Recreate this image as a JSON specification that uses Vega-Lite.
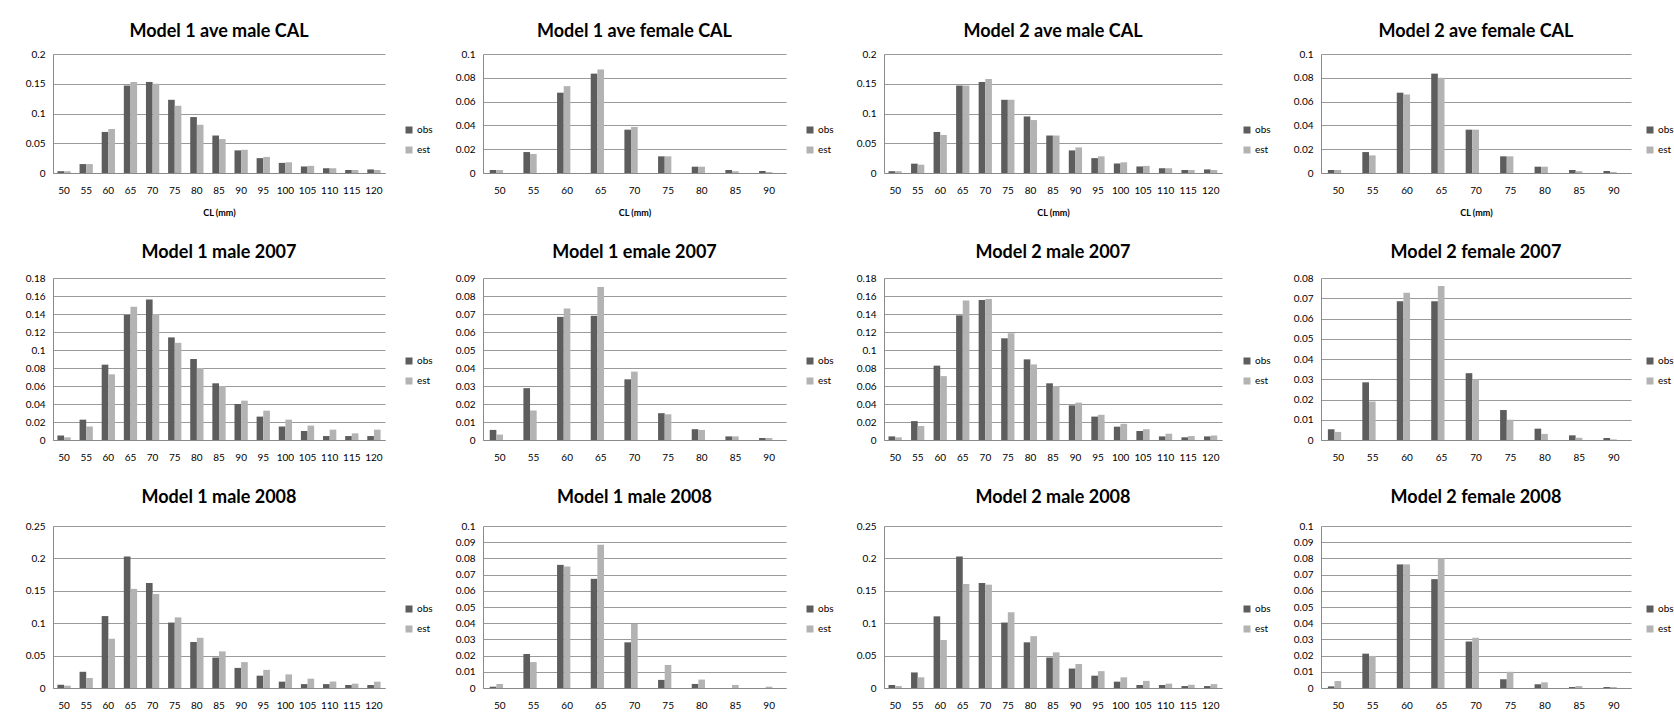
{
  "$schema": "https://vega.github.io/schema/vega-lite/v6.json",
  "padding": {"left": 25, "top": 23, "right": 0, "bottom": 0},
  "background": "white",
  "config": {
    "font": "Lato",
    "view": {"stroke": null},
    "axis": {"labelFont": "Lato", "labelFontSize": 10, "labelColor": "#000000", "ticks": false, "tickSize": 0, "domainColor": "#8a8a8a", "titleFont": "Lato"},
    "axisX": {"labelAngle": 0, "labelPadding": 12, "grid": false, "titleFontSize": 9, "titleFontWeight": "bold", "titleColor": "#000000", "titlePadding": 13},
    "axisY": {"grid": true, "gridColor": "#9a9a9a", "labelPadding": 8, "format": "~g"},
    "legend": {"orient": "none", "title": null, "symbolType": "square", "symbolSize": 49, "labelFont": "Lato", "labelFontSize": 10, "labelColor": "#000000", "rowPadding": 10, "labelOffset": 3, "symbolStrokeWidth": 0},
    "title": {"font": "Lato", "fontSize": 18, "fontWeight": "bold", "color": "#000000"}
  },
  "data": {"values": [
    {"panel":1,"cl":50,"series":"obs","value":0.003},{"panel":1,"cl":55,"series":"obs","value":0.015},{"panel":1,"cl":60,"series":"obs","value":0.069},{"panel":1,"cl":65,"series":"obs","value":0.147},{"panel":1,"cl":70,"series":"obs","value":0.153},{"panel":1,"cl":75,"series":"obs","value":0.123},{"panel":1,"cl":80,"series":"obs","value":0.094},{"panel":1,"cl":85,"series":"obs","value":0.063},{"panel":1,"cl":90,"series":"obs","value":0.038},{"panel":1,"cl":95,"series":"obs","value":0.025},{"panel":1,"cl":100,"series":"obs","value":0.017},{"panel":1,"cl":105,"series":"obs","value":0.011},{"panel":1,"cl":110,"series":"obs","value":0.008},{"panel":1,"cl":115,"series":"obs","value":0.005},{"panel":1,"cl":120,"series":"obs","value":0.006},
    {"panel":1,"cl":50,"series":"est","value":0.003},{"panel":1,"cl":55,"series":"est","value":0.015},{"panel":1,"cl":60,"series":"est","value":0.074},{"panel":1,"cl":65,"series":"est","value":0.153},{"panel":1,"cl":70,"series":"est","value":0.150},{"panel":1,"cl":75,"series":"est","value":0.113},{"panel":1,"cl":80,"series":"est","value":0.081},{"panel":1,"cl":85,"series":"est","value":0.057},{"panel":1,"cl":90,"series":"est","value":0.039},{"panel":1,"cl":95,"series":"est","value":0.027},{"panel":1,"cl":100,"series":"est","value":0.018},{"panel":1,"cl":105,"series":"est","value":0.012},{"panel":1,"cl":110,"series":"est","value":0.008},{"panel":1,"cl":115,"series":"est","value":0.005},{"panel":1,"cl":120,"series":"est","value":0.005},

    {"panel":2,"cl":50,"series":"obs","value":0.0025},{"panel":2,"cl":55,"series":"obs","value":0.0176},{"panel":2,"cl":60,"series":"obs","value":0.0675},{"panel":2,"cl":65,"series":"obs","value":0.0835},{"panel":2,"cl":70,"series":"obs","value":0.0364},{"panel":2,"cl":75,"series":"obs","value":0.014},{"panel":2,"cl":80,"series":"obs","value":0.0053},{"panel":2,"cl":85,"series":"obs","value":0.0025},{"panel":2,"cl":90,"series":"obs","value":0.0017},
    {"panel":2,"cl":50,"series":"est","value":0.0025},{"panel":2,"cl":55,"series":"est","value":0.016},{"panel":2,"cl":60,"series":"est","value":0.073},{"panel":2,"cl":65,"series":"est","value":0.087},{"panel":2,"cl":70,"series":"est","value":0.0387},{"panel":2,"cl":75,"series":"est","value":0.014},{"panel":2,"cl":80,"series":"est","value":0.0053},{"panel":2,"cl":85,"series":"est","value":0.0015},{"panel":2,"cl":90,"series":"est","value":0.0008},

    {"panel":3,"cl":50,"series":"obs","value":0.003},{"panel":3,"cl":55,"series":"obs","value":0.0157},{"panel":3,"cl":60,"series":"obs","value":0.069},{"panel":3,"cl":65,"series":"obs","value":0.147},{"panel":3,"cl":70,"series":"obs","value":0.153},{"panel":3,"cl":75,"series":"obs","value":0.123},{"panel":3,"cl":80,"series":"obs","value":0.095},{"panel":3,"cl":85,"series":"obs","value":0.063},{"panel":3,"cl":90,"series":"obs","value":0.038},{"panel":3,"cl":95,"series":"obs","value":0.025},{"panel":3,"cl":100,"series":"obs","value":0.016},{"panel":3,"cl":105,"series":"obs","value":0.011},{"panel":3,"cl":110,"series":"obs","value":0.008},{"panel":3,"cl":115,"series":"obs","value":0.005},{"panel":3,"cl":120,"series":"obs","value":0.006},
    {"panel":3,"cl":50,"series":"est","value":0.003},{"panel":3,"cl":55,"series":"est","value":0.014},{"panel":3,"cl":60,"series":"est","value":0.064},{"panel":3,"cl":65,"series":"est","value":0.147},{"panel":3,"cl":70,"series":"est","value":0.158},{"panel":3,"cl":75,"series":"est","value":0.123},{"panel":3,"cl":80,"series":"est","value":0.089},{"panel":3,"cl":85,"series":"est","value":0.063},{"panel":3,"cl":90,"series":"est","value":0.043},{"panel":3,"cl":95,"series":"est","value":0.028},{"panel":3,"cl":100,"series":"est","value":0.018},{"panel":3,"cl":105,"series":"est","value":0.012},{"panel":3,"cl":110,"series":"est","value":0.008},{"panel":3,"cl":115,"series":"est","value":0.005},{"panel":3,"cl":120,"series":"est","value":0.005},

    {"panel":4,"cl":50,"series":"obs","value":0.0025},{"panel":4,"cl":55,"series":"obs","value":0.0176},{"panel":4,"cl":60,"series":"obs","value":0.0675},{"panel":4,"cl":65,"series":"obs","value":0.0835},{"panel":4,"cl":70,"series":"obs","value":0.0364},{"panel":4,"cl":75,"series":"obs","value":0.014},{"panel":4,"cl":80,"series":"obs","value":0.0053},{"panel":4,"cl":85,"series":"obs","value":0.0025},{"panel":4,"cl":90,"series":"obs","value":0.0017},
    {"panel":4,"cl":50,"series":"est","value":0.0025},{"panel":4,"cl":55,"series":"est","value":0.0148},{"panel":4,"cl":60,"series":"est","value":0.066},{"panel":4,"cl":65,"series":"est","value":0.080},{"panel":4,"cl":70,"series":"est","value":0.0364},{"panel":4,"cl":75,"series":"est","value":0.014},{"panel":4,"cl":80,"series":"est","value":0.0053},{"panel":4,"cl":85,"series":"est","value":0.0015},{"panel":4,"cl":90,"series":"est","value":0.0008},

    {"panel":5,"cl":50,"series":"obs","value":0.005},{"panel":5,"cl":55,"series":"obs","value":0.0226},{"panel":5,"cl":60,"series":"obs","value":0.0837},{"panel":5,"cl":65,"series":"obs","value":0.139},{"panel":5,"cl":70,"series":"obs","value":0.156},{"panel":5,"cl":75,"series":"obs","value":0.114},{"panel":5,"cl":80,"series":"obs","value":0.090},{"panel":5,"cl":85,"series":"obs","value":0.063},{"panel":5,"cl":90,"series":"obs","value":0.040},{"panel":5,"cl":95,"series":"obs","value":0.026},{"panel":5,"cl":100,"series":"obs","value":0.015},{"panel":5,"cl":105,"series":"obs","value":0.010},{"panel":5,"cl":110,"series":"obs","value":0.0044},{"panel":5,"cl":115,"series":"obs","value":0.0044},{"panel":5,"cl":120,"series":"obs","value":0.0044},
    {"panel":5,"cl":50,"series":"est","value":0.003},{"panel":5,"cl":55,"series":"est","value":0.015},{"panel":5,"cl":60,"series":"est","value":0.073},{"panel":5,"cl":65,"series":"est","value":0.148},{"panel":5,"cl":70,"series":"est","value":0.140},{"panel":5,"cl":75,"series":"est","value":0.108},{"panel":5,"cl":80,"series":"est","value":0.080},{"panel":5,"cl":85,"series":"est","value":0.060},{"panel":5,"cl":90,"series":"est","value":0.0437},{"panel":5,"cl":95,"series":"est","value":0.0326},{"panel":5,"cl":100,"series":"est","value":0.0226},{"panel":5,"cl":105,"series":"est","value":0.016},{"panel":5,"cl":110,"series":"est","value":0.0115},{"panel":5,"cl":115,"series":"est","value":0.0074},{"panel":5,"cl":120,"series":"est","value":0.0115},

    {"panel":6,"cl":50,"series":"obs","value":0.0056},{"panel":6,"cl":55,"series":"obs","value":0.0288},{"panel":6,"cl":60,"series":"obs","value":0.0684},{"panel":6,"cl":65,"series":"obs","value":0.069},{"panel":6,"cl":70,"series":"obs","value":0.0337},{"panel":6,"cl":75,"series":"obs","value":0.0149},{"panel":6,"cl":80,"series":"obs","value":0.006},{"panel":6,"cl":85,"series":"obs","value":0.002},{"panel":6,"cl":90,"series":"obs","value":0.0011},
    {"panel":6,"cl":50,"series":"est","value":0.003},{"panel":6,"cl":55,"series":"est","value":0.0164},{"panel":6,"cl":60,"series":"est","value":0.073},{"panel":6,"cl":65,"series":"est","value":0.085},{"panel":6,"cl":70,"series":"est","value":0.038},{"panel":6,"cl":75,"series":"est","value":0.0143},{"panel":6,"cl":80,"series":"est","value":0.0056},{"panel":6,"cl":85,"series":"est","value":0.002},{"panel":6,"cl":90,"series":"est","value":0.0011},

    {"panel":7,"cl":50,"series":"obs","value":0.004},{"panel":7,"cl":55,"series":"obs","value":0.021},{"panel":7,"cl":60,"series":"obs","value":0.0826},{"panel":7,"cl":65,"series":"obs","value":0.1385},{"panel":7,"cl":70,"series":"obs","value":0.1555},{"panel":7,"cl":75,"series":"obs","value":0.113},{"panel":7,"cl":80,"series":"obs","value":0.0896},{"panel":7,"cl":85,"series":"obs","value":0.063},{"panel":7,"cl":90,"series":"obs","value":0.0385},{"panel":7,"cl":95,"series":"obs","value":0.026},{"panel":7,"cl":100,"series":"obs","value":0.0148},{"panel":7,"cl":105,"series":"obs","value":0.010},{"panel":7,"cl":110,"series":"obs","value":0.004},{"panel":7,"cl":115,"series":"obs","value":0.003},{"panel":7,"cl":120,"series":"obs","value":0.004},
    {"panel":7,"cl":50,"series":"est","value":0.003},{"panel":7,"cl":55,"series":"est","value":0.0155},{"panel":7,"cl":60,"series":"est","value":0.071},{"panel":7,"cl":65,"series":"est","value":0.155},{"panel":7,"cl":70,"series":"est","value":0.1567},{"panel":7,"cl":75,"series":"est","value":0.1185},{"panel":7,"cl":80,"series":"est","value":0.084},{"panel":7,"cl":85,"series":"est","value":0.060},{"panel":7,"cl":90,"series":"est","value":0.0415},{"panel":7,"cl":95,"series":"est","value":0.028},{"panel":7,"cl":100,"series":"est","value":0.018},{"panel":7,"cl":105,"series":"est","value":0.012},{"panel":7,"cl":110,"series":"est","value":0.007},{"panel":7,"cl":115,"series":"est","value":0.0044},{"panel":7,"cl":120,"series":"est","value":0.005},

    {"panel":8,"cl":50,"series":"obs","value":0.0053},{"panel":8,"cl":55,"series":"obs","value":0.0285},{"panel":8,"cl":60,"series":"obs","value":0.0685},{"panel":8,"cl":65,"series":"obs","value":0.0685},{"panel":8,"cl":70,"series":"obs","value":0.033},{"panel":8,"cl":75,"series":"obs","value":0.0148},{"panel":8,"cl":80,"series":"obs","value":0.0056},{"panel":8,"cl":85,"series":"obs","value":0.0023},{"panel":8,"cl":90,"series":"obs","value":0.001},
    {"panel":8,"cl":50,"series":"est","value":0.004},{"panel":8,"cl":55,"series":"est","value":0.019},{"panel":8,"cl":60,"series":"est","value":0.0727},{"panel":8,"cl":65,"series":"est","value":0.076},{"panel":8,"cl":70,"series":"est","value":0.030},{"panel":8,"cl":75,"series":"est","value":0.010},{"panel":8,"cl":80,"series":"est","value":0.003},{"panel":8,"cl":85,"series":"est","value":0.0011},{"panel":8,"cl":90,"series":"est","value":0.0003},

    {"panel":9,"cl":50,"series":"obs","value":0.005},{"panel":9,"cl":55,"series":"obs","value":0.025},{"panel":9,"cl":60,"series":"obs","value":0.111},{"panel":9,"cl":65,"series":"obs","value":0.203},{"panel":9,"cl":70,"series":"obs","value":0.162},{"panel":9,"cl":75,"series":"obs","value":0.101},{"panel":9,"cl":80,"series":"obs","value":0.071},{"panel":9,"cl":85,"series":"obs","value":0.047},{"panel":9,"cl":90,"series":"obs","value":0.031},{"panel":9,"cl":95,"series":"obs","value":0.019},{"panel":9,"cl":100,"series":"obs","value":0.0098},{"panel":9,"cl":105,"series":"obs","value":0.006},{"panel":9,"cl":110,"series":"obs","value":0.006},{"panel":9,"cl":115,"series":"obs","value":0.0046},{"panel":9,"cl":120,"series":"obs","value":0.0046},
    {"panel":9,"cl":50,"series":"est","value":0.0036},{"panel":9,"cl":55,"series":"est","value":0.0154},{"panel":9,"cl":60,"series":"est","value":0.076},{"panel":9,"cl":65,"series":"est","value":0.153},{"panel":9,"cl":70,"series":"est","value":0.145},{"panel":9,"cl":75,"series":"est","value":0.109},{"panel":9,"cl":80,"series":"est","value":0.0775},{"panel":9,"cl":85,"series":"est","value":0.0565},{"panel":9,"cl":90,"series":"est","value":0.040},{"panel":9,"cl":95,"series":"est","value":0.028},{"panel":9,"cl":100,"series":"est","value":0.021},{"panel":9,"cl":105,"series":"est","value":0.0144},{"panel":9,"cl":110,"series":"est","value":0.010},{"panel":9,"cl":115,"series":"est","value":0.0067},{"panel":9,"cl":120,"series":"est","value":0.0098},

    {"panel":10,"cl":50,"series":"obs","value":0.0008},{"panel":10,"cl":55,"series":"obs","value":0.021},{"panel":10,"cl":60,"series":"obs","value":0.076},{"panel":10,"cl":65,"series":"obs","value":0.0674},{"panel":10,"cl":70,"series":"obs","value":0.0282},{"panel":10,"cl":75,"series":"obs","value":0.005},{"panel":10,"cl":80,"series":"obs","value":0.0025},{"panel":10,"cl":85,"series":"obs","value":0},{"panel":10,"cl":90,"series":"obs","value":0},
    {"panel":10,"cl":50,"series":"est","value":0.0025},{"panel":10,"cl":55,"series":"est","value":0.016},{"panel":10,"cl":60,"series":"est","value":0.075},{"panel":10,"cl":65,"series":"est","value":0.0885},{"panel":10,"cl":70,"series":"est","value":0.0396},{"panel":10,"cl":75,"series":"est","value":0.0142},{"panel":10,"cl":80,"series":"est","value":0.0052},{"panel":10,"cl":85,"series":"est","value":0.0019},{"panel":10,"cl":90,"series":"est","value":0.0008},

    {"panel":11,"cl":50,"series":"obs","value":0.0046},{"panel":11,"cl":55,"series":"obs","value":0.024},{"panel":11,"cl":60,"series":"obs","value":0.1106},{"panel":11,"cl":65,"series":"obs","value":0.203},{"panel":11,"cl":70,"series":"obs","value":0.162},{"panel":11,"cl":75,"series":"obs","value":0.101},{"panel":11,"cl":80,"series":"obs","value":0.0705},{"panel":11,"cl":85,"series":"obs","value":0.047},{"panel":11,"cl":90,"series":"obs","value":0.030},{"panel":11,"cl":95,"series":"obs","value":0.019},{"panel":11,"cl":100,"series":"obs","value":0.0098},{"panel":11,"cl":105,"series":"obs","value":0.0046},{"panel":11,"cl":110,"series":"obs","value":0.0046},{"panel":11,"cl":115,"series":"obs","value":0.003},{"panel":11,"cl":120,"series":"obs","value":0.003},
    {"panel":11,"cl":50,"series":"est","value":0.003},{"panel":11,"cl":55,"series":"est","value":0.0165},{"panel":11,"cl":60,"series":"est","value":0.074},{"panel":11,"cl":65,"series":"est","value":0.1605},{"panel":11,"cl":70,"series":"est","value":0.1595},{"panel":11,"cl":75,"series":"est","value":0.117},{"panel":11,"cl":80,"series":"est","value":0.080},{"panel":11,"cl":85,"series":"est","value":0.055},{"panel":11,"cl":90,"series":"est","value":0.037},{"panel":11,"cl":95,"series":"est","value":0.026},{"panel":11,"cl":100,"series":"est","value":0.0165},{"panel":11,"cl":105,"series":"est","value":0.011},{"panel":11,"cl":110,"series":"est","value":0.0067},{"panel":11,"cl":115,"series":"est","value":0.005},{"panel":11,"cl":120,"series":"est","value":0.006},

    {"panel":12,"cl":50,"series":"obs","value":0.001},{"panel":12,"cl":55,"series":"obs","value":0.0212},{"panel":12,"cl":60,"series":"obs","value":0.0763},{"panel":12,"cl":65,"series":"obs","value":0.0672},{"panel":12,"cl":70,"series":"obs","value":0.0287},{"panel":12,"cl":75,"series":"obs","value":0.0054},{"panel":12,"cl":80,"series":"obs","value":0.0023},{"panel":12,"cl":85,"series":"obs","value":0.0006},{"panel":12,"cl":90,"series":"obs","value":0.0006},
    {"panel":12,"cl":50,"series":"est","value":0.0043},{"panel":12,"cl":55,"series":"est","value":0.0198},{"panel":12,"cl":60,"series":"est","value":0.0763},{"panel":12,"cl":65,"series":"est","value":0.080},{"panel":12,"cl":70,"series":"est","value":0.031},{"panel":12,"cl":75,"series":"est","value":0.010},{"panel":12,"cl":80,"series":"est","value":0.0035},{"panel":12,"cl":85,"series":"est","value":0.0012},{"panel":12,"cl":90,"series":"est","value":0.0006}
  ]},
  "spacing": 22,
  "resolve": {"scale": {"color": "independent"}, "legend": {"color": "independent"}},
  "hconcat": [
    {
      "spacing": 27,
      "resolve": {"scale": {"color": "independent"}, "legend": {"color": "independent"}},
      "vconcat": [
        {"title": {"text": "Model 1 ave male CAL", "offset": 8}, "width": 332, "height": 119, "transform": [{"filter": "datum.panel == 1"}], "mark": "bar",
         "encoding": {"x": {"field": "cl", "type": "ordinal", "title": "CL (mm)", "scale": {"paddingInner": 0.4, "paddingOuter": 0.2}}, "xOffset": {"field": "series", "sort": ["obs", "est"]},
           "y": {"field": "value", "type": "quantitative", "title": null, "scale": {"domain": [0, 0.2]}, "axis": {"values": [0, 0.05, 0.1, 0.15, 0.2]}},
           "color": {"field": "series", "type": "nominal", "scale": {"domain": ["obs", "est"], "range": ["#5d5d5d", "#b3b3b3"]}, "legend": {"legendX": 351, "legendY": 71}}}},
        {"title": {"text": "Model 1 male 2007", "offset": 11}, "width": 332, "height": 162, "transform": [{"filter": "datum.panel == 5"}], "mark": "bar",
         "encoding": {"x": {"field": "cl", "type": "ordinal", "title": null, "scale": {"paddingInner": 0.4, "paddingOuter": 0.2}}, "xOffset": {"field": "series", "sort": ["obs", "est"]},
           "y": {"field": "value", "type": "quantitative", "title": null, "scale": {"domain": [0, 0.18]}, "axis": {"values": [0, 0.02, 0.04, 0.06, 0.08, 0.1, 0.12, 0.14, 0.16, 0.18]}},
           "color": {"field": "series", "type": "nominal", "scale": {"domain": ["obs", "est"], "range": ["#5d5d5d", "#b3b3b3"]}, "legend": {"legendX": 351, "legendY": 78}}}},
        {"title": {"text": "Model 1 male 2008", "offset": 14}, "width": 332, "height": 162, "transform": [{"filter": "datum.panel == 9"}], "mark": "bar",
         "encoding": {"x": {"field": "cl", "type": "ordinal", "title": null, "scale": {"paddingInner": 0.4, "paddingOuter": 0.2}}, "xOffset": {"field": "series", "sort": ["obs", "est"]},
           "y": {"field": "value", "type": "quantitative", "title": null, "scale": {"domain": [0, 0.25]}, "axis": {"values": [0, 0.05, 0.1, 0.15, 0.2, 0.25]}},
           "color": {"field": "series", "type": "nominal", "scale": {"domain": ["obs", "est"], "range": ["#5d5d5d", "#b3b3b3"]}, "legend": {"legendX": 351, "legendY": 78}}}}
      ]
    },
    {
      "spacing": 27,
      "resolve": {"scale": {"color": "independent"}, "legend": {"color": "independent"}},
      "vconcat": [
        {"title": {"text": "Model 1 ave female CAL", "offset": 8}, "width": 303, "height": 119, "transform": [{"filter": "datum.panel == 2"}], "mark": "bar",
         "encoding": {"x": {"field": "cl", "type": "ordinal", "title": "CL (mm)", "scale": {"paddingInner": 0.4, "paddingOuter": 0.2}}, "xOffset": {"field": "series", "sort": ["obs", "est"]},
           "y": {"field": "value", "type": "quantitative", "title": null, "scale": {"domain": [0, 0.1]}, "axis": {"values": [0, 0.02, 0.04, 0.06, 0.08, 0.1]}},
           "color": {"field": "series", "type": "nominal", "scale": {"domain": ["obs", "est"], "range": ["#5d5d5d", "#b3b3b3"]}, "legend": {"legendX": 322, "legendY": 71}}}},
        {"title": {"text": "Model 1 emale 2007", "offset": 11}, "width": 303, "height": 162, "transform": [{"filter": "datum.panel == 6"}], "mark": "bar",
         "encoding": {"x": {"field": "cl", "type": "ordinal", "title": null, "scale": {"paddingInner": 0.4, "paddingOuter": 0.2}}, "xOffset": {"field": "series", "sort": ["obs", "est"]},
           "y": {"field": "value", "type": "quantitative", "title": null, "scale": {"domain": [0, 0.09]}, "axis": {"values": [0, 0.01, 0.02, 0.03, 0.04, 0.05, 0.06, 0.07, 0.08, 0.09]}},
           "color": {"field": "series", "type": "nominal", "scale": {"domain": ["obs", "est"], "range": ["#5d5d5d", "#b3b3b3"]}, "legend": {"legendX": 322, "legendY": 78}}}},
        {"title": {"text": "Model 1 male 2008", "offset": 14}, "width": 303, "height": 162, "transform": [{"filter": "datum.panel == 10"}], "mark": "bar",
         "encoding": {"x": {"field": "cl", "type": "ordinal", "title": null, "scale": {"paddingInner": 0.4, "paddingOuter": 0.2}}, "xOffset": {"field": "series", "sort": ["obs", "est"]},
           "y": {"field": "value", "type": "quantitative", "title": null, "scale": {"domain": [0, 0.1]}, "axis": {"values": [0, 0.01, 0.02, 0.03, 0.04, 0.05, 0.06, 0.07, 0.08, 0.09, 0.1]}},
           "color": {"field": "series", "type": "nominal", "scale": {"domain": ["obs", "est"], "range": ["#5d5d5d", "#b3b3b3"]}, "legend": {"legendX": 322, "legendY": 78}}}}
      ]
    },
    {
      "spacing": 27,
      "resolve": {"scale": {"color": "independent"}, "legend": {"color": "independent"}},
      "vconcat": [
        {"title": {"text": "Model 2 ave male CAL", "offset": 8}, "width": 338, "height": 119, "transform": [{"filter": "datum.panel == 3"}], "mark": "bar",
         "encoding": {"x": {"field": "cl", "type": "ordinal", "title": "CL (mm)", "scale": {"paddingInner": 0.4, "paddingOuter": 0.2}}, "xOffset": {"field": "series", "sort": ["obs", "est"]},
           "y": {"field": "value", "type": "quantitative", "title": null, "scale": {"domain": [0, 0.2]}, "axis": {"values": [0, 0.05, 0.1, 0.15, 0.2]}},
           "color": {"field": "series", "type": "nominal", "scale": {"domain": ["obs", "est"], "range": ["#5d5d5d", "#b3b3b3"]}, "legend": {"legendX": 358, "legendY": 71}}}},
        {"title": {"text": "Model 2 male 2007", "offset": 11}, "width": 338, "height": 162, "transform": [{"filter": "datum.panel == 7"}], "mark": "bar",
         "encoding": {"x": {"field": "cl", "type": "ordinal", "title": null, "scale": {"paddingInner": 0.4, "paddingOuter": 0.2}}, "xOffset": {"field": "series", "sort": ["obs", "est"]},
           "y": {"field": "value", "type": "quantitative", "title": null, "scale": {"domain": [0, 0.18]}, "axis": {"values": [0, 0.02, 0.04, 0.06, 0.08, 0.1, 0.12, 0.14, 0.16, 0.18]}},
           "color": {"field": "series", "type": "nominal", "scale": {"domain": ["obs", "est"], "range": ["#5d5d5d", "#b3b3b3"]}, "legend": {"legendX": 358, "legendY": 78}}}},
        {"title": {"text": "Model 2 male 2008", "offset": 14}, "width": 338, "height": 162, "transform": [{"filter": "datum.panel == 11"}], "mark": "bar",
         "encoding": {"x": {"field": "cl", "type": "ordinal", "title": null, "scale": {"paddingInner": 0.4, "paddingOuter": 0.2}}, "xOffset": {"field": "series", "sort": ["obs", "est"]},
           "y": {"field": "value", "type": "quantitative", "title": null, "scale": {"domain": [0, 0.25]}, "axis": {"values": [0, 0.05, 0.1, 0.15, 0.2, 0.25]}},
           "color": {"field": "series", "type": "nominal", "scale": {"domain": ["obs", "est"], "range": ["#5d5d5d", "#b3b3b3"]}, "legend": {"legendX": 358, "legendY": 78}}}}
      ]
    },
    {
      "spacing": 27,
      "resolve": {"scale": {"color": "independent"}, "legend": {"color": "independent"}},
      "vconcat": [
        {"title": {"text": "Model 2 ave female CAL", "offset": 8}, "width": 310, "height": 119, "transform": [{"filter": "datum.panel == 4"}], "mark": "bar",
         "encoding": {"x": {"field": "cl", "type": "ordinal", "title": "CL (mm)", "scale": {"paddingInner": 0.4, "paddingOuter": 0.2}}, "xOffset": {"field": "series", "sort": ["obs", "est"]},
           "y": {"field": "value", "type": "quantitative", "title": null, "scale": {"domain": [0, 0.1]}, "axis": {"values": [0, 0.02, 0.04, 0.06, 0.08, 0.1]}},
           "color": {"field": "series", "type": "nominal", "scale": {"domain": ["obs", "est"], "range": ["#5d5d5d", "#b3b3b3"]}, "legend": {"legendX": 324, "legendY": 71}}}},
        {"title": {"text": "Model 2 female 2007", "offset": 11}, "width": 310, "height": 162, "transform": [{"filter": "datum.panel == 8"}], "mark": "bar",
         "encoding": {"x": {"field": "cl", "type": "ordinal", "title": null, "scale": {"paddingInner": 0.4, "paddingOuter": 0.2}}, "xOffset": {"field": "series", "sort": ["obs", "est"]},
           "y": {"field": "value", "type": "quantitative", "title": null, "scale": {"domain": [0, 0.08]}, "axis": {"values": [0, 0.01, 0.02, 0.03, 0.04, 0.05, 0.06, 0.07, 0.08]}},
           "color": {"field": "series", "type": "nominal", "scale": {"domain": ["obs", "est"], "range": ["#5d5d5d", "#b3b3b3"]}, "legend": {"legendX": 324, "legendY": 78}}}},
        {"title": {"text": "Model 2 female 2008", "offset": 14}, "width": 310, "height": 162, "transform": [{"filter": "datum.panel == 12"}], "mark": "bar",
         "encoding": {"x": {"field": "cl", "type": "ordinal", "title": null, "scale": {"paddingInner": 0.4, "paddingOuter": 0.2}}, "xOffset": {"field": "series", "sort": ["obs", "est"]},
           "y": {"field": "value", "type": "quantitative", "title": null, "scale": {"domain": [0, 0.1]}, "axis": {"values": [0, 0.01, 0.02, 0.03, 0.04, 0.05, 0.06, 0.07, 0.08, 0.09, 0.1]}},
           "color": {"field": "series", "type": "nominal", "scale": {"domain": ["obs", "est"], "range": ["#5d5d5d", "#b3b3b3"]}, "legend": {"legendX": 324, "legendY": 78}}}}
      ]
    }
  ]
}
